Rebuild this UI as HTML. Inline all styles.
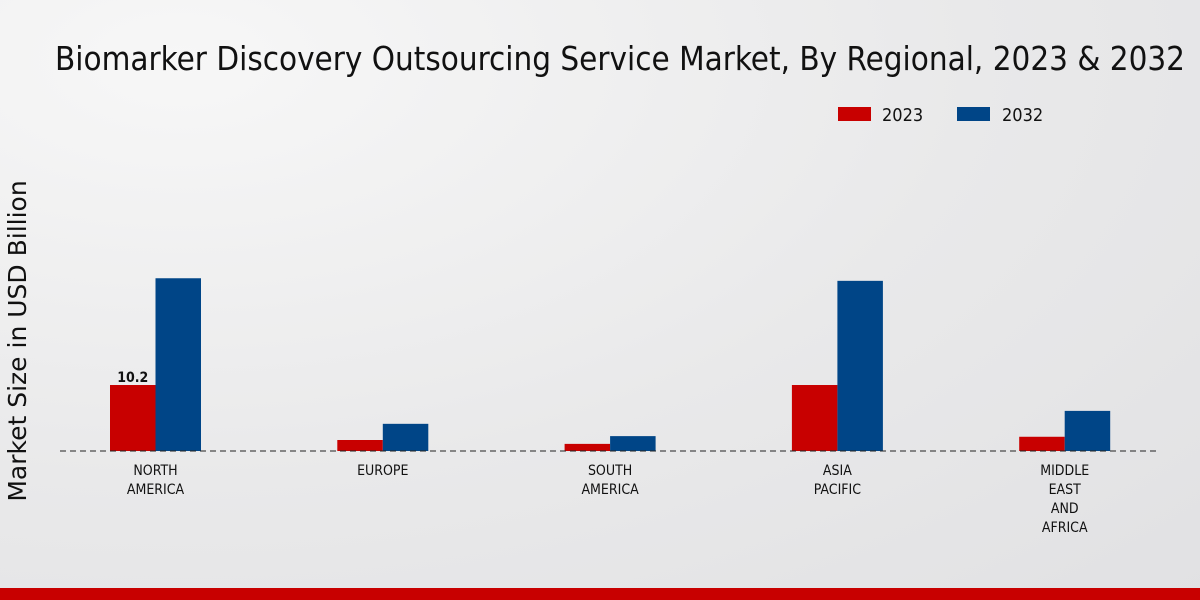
<!DOCTYPE html>
<html><head><meta charset="utf-8"><style>
html,body{margin:0;padding:0;width:1200px;height:600px;overflow:hidden}
body{background:radial-gradient(ellipse at 15% 10%,#f7f7f7 0%,#e9e9ea 55%,#e1e1e3 100%);font-family:"DejaVu Sans Condensed","DejaVu Sans","Liberation Sans",sans-serif}
</style></head><body>
<svg id="chart" width="1200" height="600" xmlns="http://www.w3.org/2000/svg">
<text x="620" y="70" text-anchor="middle" font-size="33" textLength="1130" lengthAdjust="spacingAndGlyphs" fill="#111">Biomarker Discovery Outsourcing Service Market, By Regional, 2023 &amp; 2032</text>
<text transform="translate(26,341) rotate(-90)" text-anchor="middle" font-size="25" fill="#111" font-family="DejaVu Sans,sans-serif">Market Size in USD Billion</text>
<g>
<rect x="838" y="107" width="33" height="14" fill="#c80000"/>
<text x="882" y="121" font-size="18" fill="#111">2023</text>
<rect x="957" y="107" width="33" height="14" fill="#004587"/>
<text x="1002" y="121" font-size="18" fill="#111">2032</text>
</g>
<g id="bars"></g>
<line x1="60" y1="451" x2="1160" y2="451" stroke="#222" stroke-dasharray="6,4" stroke-width="1"/>
<g id="labels"></g>
<rect x="0" y="588" width="1200" height="12" fill="#c80000"/>
</svg>
<script>
const categories=[["NORTH","AMERICA"],["EUROPE"],["SOUTH","AMERICA"],["ASIA","PACIFIC"],["MIDDLE","EAST","AND","AFRICA"]];
const values2023=[10.2,1.7,1.1,10.2,2.2];
const values2032=[26.7,4.2,2.3,26.3,6.2];
const ns="http://www.w3.org/2000/svg";
const base=451,scale=6.47,x0=155.5,step=227.3,bw=45.5;
const y=v=>base-v*scale;
const bars=document.getElementById('bars'),labels=document.getElementById('labels');
function rect(x,v,c,n){const r=document.createElementNS(ns,'rect');r.setAttribute('x',x);r.setAttribute('y',y(v));r.setAttribute('width',bw);r.setAttribute('height',base-y(v));r.setAttribute('fill',c);


bars.appendChild(r);}
categories.forEach((c,i)=>{const cx=x0+i*step;
rect(cx-bw,values2023[i],'#c80000','bar-2023-'+i);
rect(cx,values2032[i],'#004587','bar-2032-'+i);
c.forEach((l,j)=>{const t=document.createElementNS(ns,'text');t.setAttribute('x',cx);t.setAttribute('y',475+j*19);t.setAttribute('text-anchor','middle');t.setAttribute('font-size','14');t.setAttribute('fill','#111');t.textContent=l;


labels.appendChild(t);});});
const v=document.createElementNS(ns,'text');v.setAttribute('x',x0-bw/2);v.setAttribute('y',y(values2023[0])-3);v.setAttribute('text-anchor','middle');v.setAttribute('font-size','14');v.setAttribute('font-weight','bold');v.setAttribute('fill','#111');v.textContent=values2023[0];


labels.appendChild(v);
</script>
</body></html>
